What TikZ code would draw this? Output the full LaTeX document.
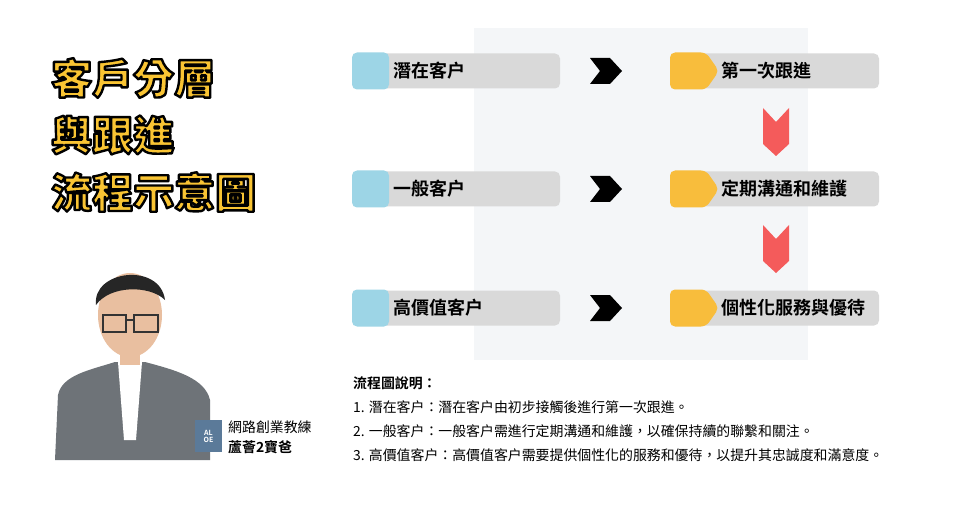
\documentclass[tikz,border=0pt]{standalone}
\usepackage{fontspec}
\setmainfont{Noto Sans CJK TC}[BoldFont={Noto Sans CJK TC Bold}]
\newfontfamily\heavy{Noto Sans CJK TC Black}
\definecolor{wm}{HTML}{F4F6F8}
\definecolor{boxg}{HTML}{D9D9D9}
\definecolor{bl}{HTML}{9DD5E6}
\definecolor{org}{HTML}{F8BD3C}
\definecolor{rd}{HTML}{F45B5B}
\definecolor{ttl}{HTML}{F9C433}
\definecolor{badge}{HTML}{5B7A99}
\definecolor{suit}{HTML}{6E7378}
\definecolor{skin}{HTML}{E9BFA0}
\tikzset{
 gbox/.style={fill=boxg,rounded corners=5pt,minimum width=208pt,minimum height=35pt,draw=none},
 lbl/.style={font=\bfseries\fontsize{18}{20}\selectfont,anchor=west,inner sep=0},
 desc/.style={font=\fontsize{13.9}{15}\selectfont,anchor=west,inner sep=0},
 ttlf/.style={anchor=west,inner sep=0,font=\heavy\fontsize{41}{43}\selectfont,text=ttl},
}
\newcommand{\strk}[1]{\special{pdf:code q 2 Tr 2.4 w 0 0 0 RG 1 j}#1\special{pdf:code Q}}
\begin{document}
\begin{tikzpicture}[x=1pt,y=-1pt]
\useasboundingbox (0,0) rectangle (980,513);
\fill[white] (0,0) rectangle (980,513);
\fill[wm] (474,28) rectangle (808,360);
% title
\node[ttlf] (T1) at (51,78) {\strk{客戶分層}};
\node[ttlf] (T2) at (51,135) {\strk{與跟進}};
\node[ttlf] (T3) at (51,192) {\strk{流程示意圖}};
% rows
\foreach \i/\y/\a/\b in {1/71/潛在客户/第一次跟進,2/189/一般客户/定期溝通和維護,3/308/高價值客户/個性化服務與優待}{
 \node[gbox] (L\i) at (456,\y) {};
 \fill[bl,rounded corners=5pt] (352,\y-18.5) rectangle (389,\y+18.5);
 \node[lbl] (LT\i) at (393,\y) {\a};
 \node[gbox] (R\i) at (775,\y) {};
 \fill[org,rounded corners=5pt] (670,\y-18.5) -- (706,\y-18.5) -- (719,\y) -- (706,\y+18.5) -- (670,\y+18.5) -- cycle;
 \node[lbl] (RT\i) at (721,\y) {\b};
 \fill[black] (590,\y-13) -- (610,\y-13) -- (622,\y) -- (610,\y+13) -- (590,\y+13) -- (600,\y) -- cycle;
}
\foreach \y in {108,225}{
 \fill[rd] (763,\y) -- (776,\y+14) -- (789,\y) -- (789,\y+36) -- (776,\y+48) -- (763,\y+36) -- cycle;
}
% description
\node[desc,font=\bfseries\fontsize{13.9}{15}\selectfont] (D0) at (353,383) {流程圖說明：};
\node[desc] (D1) at (353,407) {1. 潛在客户：潛在客户由初步接觸後進行第一次跟進。};
\node[desc] (D2) at (353,431) {2. 一般客户：一般客户需進行定期溝通和維護，以確保持續的聯繫和關注。};
\node[desc] (D3) at (353,455) {3. 高價值客户：高價值客户需要提供個性化的服務和優待，以提升其忠誠度和滿意度。};
% person
\fill[suit] (55,460) -- (58,395) .. controls (62,375) and (90,370) .. (115,362) -- (145,362) .. controls (175,370) and (205,378) .. (210,400) -- (210,460) -- cycle;
\fill[white] (118,362) -- (142,362) -- (136,440) -- (124,440) -- cycle;
\fill[skin] (120,330) rectangle (140,365);
\fill[skin] (130,315) ellipse (32 and 42);
\fill[black!85] (96,305) .. controls (92,270) and (160,262) .. (165,300) .. controls (150,285) and (110,285) .. (96,305) -- cycle;
\draw[black!80,line width=2] (103,315) rectangle (126,332) (134,315) rectangle (158,332) (126,320) -- (134,320);
\fill[badge] (195,420) rectangle (222,452);
\node[font=\bfseries\fontsize{7}{7}\selectfont,text=white,align=center,inner sep=0] (BG) at (208.5,436) {AL\\OE};
\node[desc] (N1) at (228,427) {網路創業教練};
\node[desc,font=\bfseries\fontsize{13.9}{15}\selectfont] (N2) at (228,447) {蘆薈2寶爸};
\end{tikzpicture}
\end{document}
